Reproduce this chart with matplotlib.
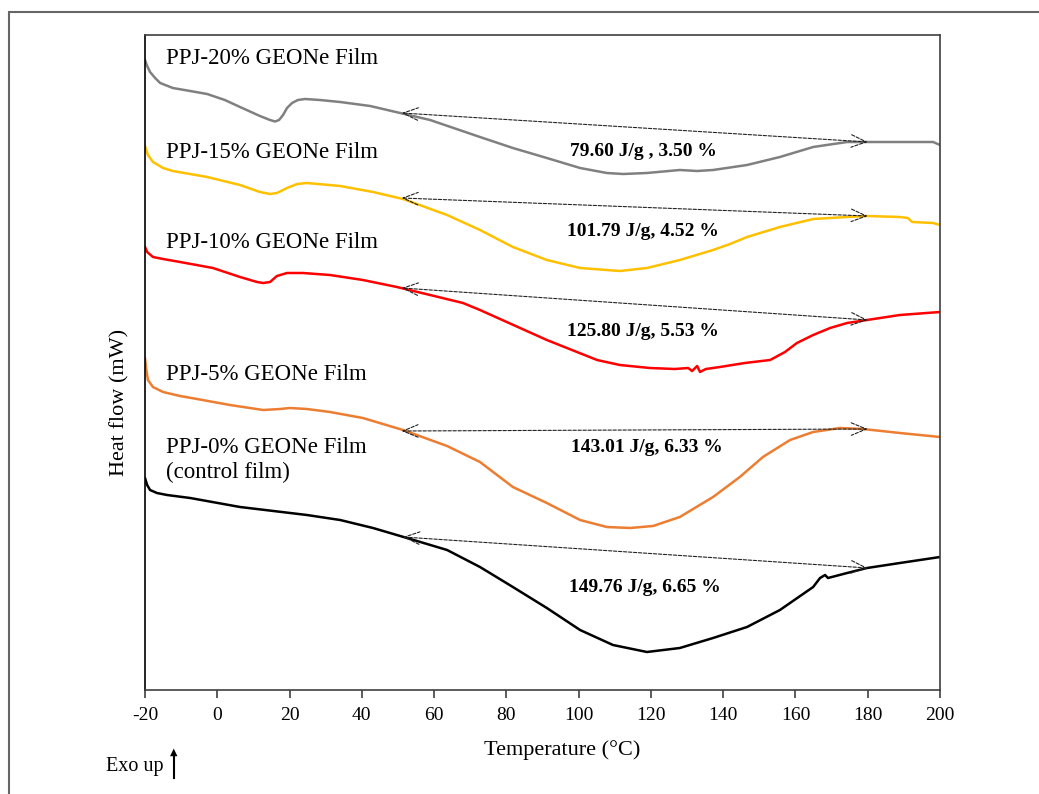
import matplotlib
matplotlib.use("Agg")
import matplotlib.pyplot as plt
from matplotlib.patches import Rectangle

plt.rcParams['font.family'] = ['Liberation Serif', 'DejaVu Serif']
plt.rcParams['axes.unicode_minus'] = False

# DSC curves, temperature (°C) vs heat flow (arbitrary offset units)
t20 = [-20, -19.4, -18.6, -17.2, -15.8, -12.3, -7.5, -2.8, 2.1, 6.3, 11.8, 14.6, 16.0, 17.1,
       18.2, 19.3, 20.7, 22.3, 24.3, 28.4, 34.0, 42.3, 50.6, 58.9, 72.7, 81.8, 91.2, 100.4,
       107.8, 112.3, 118.9, 128.0, 132.8, 137.2, 146.6, 155.7, 164.9, 174.3, 178.7, 188.9,
       198.1, 200]
hf20 = [63.0, 62.4, 61.8, 61.2, 60.7, 60.2, 59.9, 59.6, 59.0, 58.3, 57.4, 57.0, 56.85, 57.0,
        57.5, 58.2, 58.7, 59.0, 59.1, 59.0, 58.8, 58.4, 57.7, 57.0, 55.3, 54.2, 53.2, 52.2,
        51.7, 51.6, 51.7, 52.0, 51.9, 52.0, 52.5, 53.3, 54.3, 54.8, 54.8, 54.8,
        54.8, 54.5]

t15 = [-20, -19.2, -17.8, -15.0, -12.3, -2.8, 6.3, 11.8, 14.6, 16.5, 19.3, 22.1, 24.8, 34.0,
       43.1, 51.4, 63.6, 72.7, 81.8, 91.2, 100.4, 111.4, 118.9, 128.0, 137.2, 141.9, 146.6,
       155.7, 164.9, 174.3, 179.8, 188.9, 191.1, 192.3, 198.1, 200]
hf15 = [54.4, 53.5, 52.8, 52.2, 51.9, 51.3, 50.5, 49.8, 49.6, 49.7, 50.2, 50.6, 50.7, 50.4,
        49.8, 49.1, 47.5, 46.0, 44.3, 43.0, 42.2, 41.9, 42.2, 43.0, 44.0, 44.6, 45.3,
        46.3, 47.1, 47.3, 47.4, 47.3, 47.2, 46.8, 46.7, 46.5]

t10 = [-20, -19.4, -17.8, -15.0, -10.3, -1.2, 6.3, 11.0, 12.7, 14.6, 16.5, 19.3, 23.7, 31.2,
       40.3, 49.7, 58.9, 68.0, 72.7, 91.2, 105.1, 111.4, 119.7, 126.6, 130.3, 131.4, 132.8,
       133.6, 135.2, 139.1, 146.0, 153.0, 157.1, 160.4, 164.9, 169.6, 174.3, 179.8, 188.9, 200]
hf10 = [44.3, 43.8, 43.3, 43.1, 42.8, 42.2, 41.3, 40.8, 40.7, 40.8, 41.4, 41.7, 41.7, 41.5,
        41.0, 40.3, 39.5, 38.7, 38.0, 35.0, 33.0, 32.5, 32.2, 32.1, 32.2, 31.9, 32.4,
        31.8, 32.1, 32.3, 32.7, 33.0, 33.8, 34.7, 35.5, 36.2, 36.7, 37.0, 37.5, 37.8]

t5 = [-20, -19.7, -19.2, -17.8, -15.0, -10.3, -5.6, 3.5, 12.7, 17.4, 20.1, 24.8, 31.2, 40.3,
      51.4, 63.6, 72.7, 81.8, 91.2, 100.4, 107.8, 114.2, 120.6, 128.0, 137.2, 144.6, 151.0,
      158.5, 164.9, 172.3, 178.7, 188.9, 200]
hf5 = [33.2, 32.2, 31.0, 30.3, 29.8, 29.4, 29.1, 28.5, 28.0, 28.1, 28.2, 28.1, 27.8, 27.2,
       26.0, 24.4, 22.8, 20.3, 18.7, 17.0, 16.3, 16.2, 16.4, 17.3, 19.3, 21.3, 23.3,
       25.0, 25.8, 26.2, 26.1, 25.7, 25.3]

t0 = [-20, -19.4, -18.6, -16.7, -13.9, -7.5, 6.3, 24.8, 34.0, 43.1, 52.5, 63.6, 72.7, 81.8,
      91.2, 100.4, 109.5, 118.9, 128.0, 137.2, 146.6, 155.7, 164.9, 166.8, 168.2, 169.0,
      174.3, 179.8, 188.9, 200]
hf0 = [21.2, 20.5, 20.0, 19.7, 19.5, 19.2, 18.3, 17.5, 17.0, 16.2, 15.2, 14.0, 12.3, 10.3,
       8.2, 6.0, 4.5, 3.8, 4.2, 5.2, 6.3, 8.0, 10.3, 11.2, 11.5, 11.2,
       11.7, 12.2, 12.7, 13.3]

names = ["PPJ-20% GEONe Film", "PPJ-15% GEONe Film", "PPJ-10% GEONe Film",
         "PPJ-5% GEONe Film", "PPJ-0% GEONe Film\n(control film)"]
enthalpy = ["79.60 J/g , 3.50 %", "101.79 J/g, 4.52 %", "125.80 J/g, 5.53 %",
            "143.01 J/g, 6.33 %", "149.76 J/g, 6.65 %"]
colors = ["#808080", "#FFC000", "#FF0000", "#ED7D31", "#000000"]

# integration baselines (start T, start hf) -> (end T, end hf)
base_start = [(51, 57.7), (51, 49.2), (51, 40.2), (51, 25.9), (51.4, 15.3)]
base_end = [(180, 54.8), (180, 47.4), (180, 37.0), (180, 26.1), (180, 12.2)]
label_pos = [(117.8, 53.8), (117.8, 45.8), (117.8, 35.8), (118.9, 24.2), (118.4, 10.2)]
name_pos = [(-14.2, 63.2), (-14.2, 53.8), (-14.2, 44.7), (-14.2, 31.5), (-14.2, 23.0)]

fig = plt.figure(figsize=(10.39, 7.94), dpi=100)
ax = fig.add_axes([145 / 1039, 104 / 794, 795 / 1039, 655 / 794])

curves = [(t20, hf20), (t15, hf15), (t10, hf10), (t5, hf5), (t0, hf0)]
for (t, hf), c in zip(curves, colors):
    ax.plot(t, hf, color=c, lw=1.8, solid_joinstyle='round', solid_capstyle='round')

for i in range(5):
    ax.annotate("", xy=base_start[i], xytext=base_end[i],
                arrowprops=dict(arrowstyle="<->,head_length=0.6,head_width=0.25",
                                linestyle=(0, (3, 1.5)), lw=0.8,
                                color="#222222", mutation_scale=18,
                                shrinkA=0, shrinkB=0))
    ax.text(label_pos[i][0], label_pos[i][1], enthalpy[i], ha='center', va='center',
            fontsize=14, fontweight='bold')
    ax.text(name_pos[i][0], name_pos[i][1], names[i], ha='left', va='center',
            fontsize=16.5, linespacing=1.25)

ax.set_xlim(-20, 200)
ax.set_ylim(0, 65.5)
ax.set_xticks(range(-20, 201, 20))
ax.set_yticks([])
ax.tick_params(axis='x', direction='out', length=6, width=1.2, labelsize=14,
               pad=6, color="#404040")
for s in ax.spines.values():
    s.set_color("#404040")
    s.set_linewidth(1.2)
ax.spines['left'].set_color("#000000")

fig.text(562 / 1039, 1 - 750 / 794, "Temperature (°C)", ha='center', va='center', fontsize=16)
fig.text(120 / 1039, 1 - 402 / 794, "Heat flow (mW)", ha='center', va='center',
         rotation=90, fontsize=16)
fig.text(106 / 1039, 1 - 766 / 794, "Exo up", ha='left', va='center', fontsize=14.5)
fig.patches.append(Rectangle((9 / 1039, -0.1), 1.2, 1 - 12 / 794 + 0.1,
                             transform=fig.transFigure, fill=False,
                             edgecolor="#666666", lw=1.5))
fig.add_artist(plt.Line2D([174 / 1039, 174 / 1039], [1 - 778 / 794, 1 - 755 / 794],
                          transform=fig.transFigure, color='black', lw=1.5))
fig.text(174 / 1039, 1 - 752 / 794, "▲", ha='center', va='center', fontsize=7,
         family='DejaVu Sans')

fig.savefig("out.png", dpi=100)
